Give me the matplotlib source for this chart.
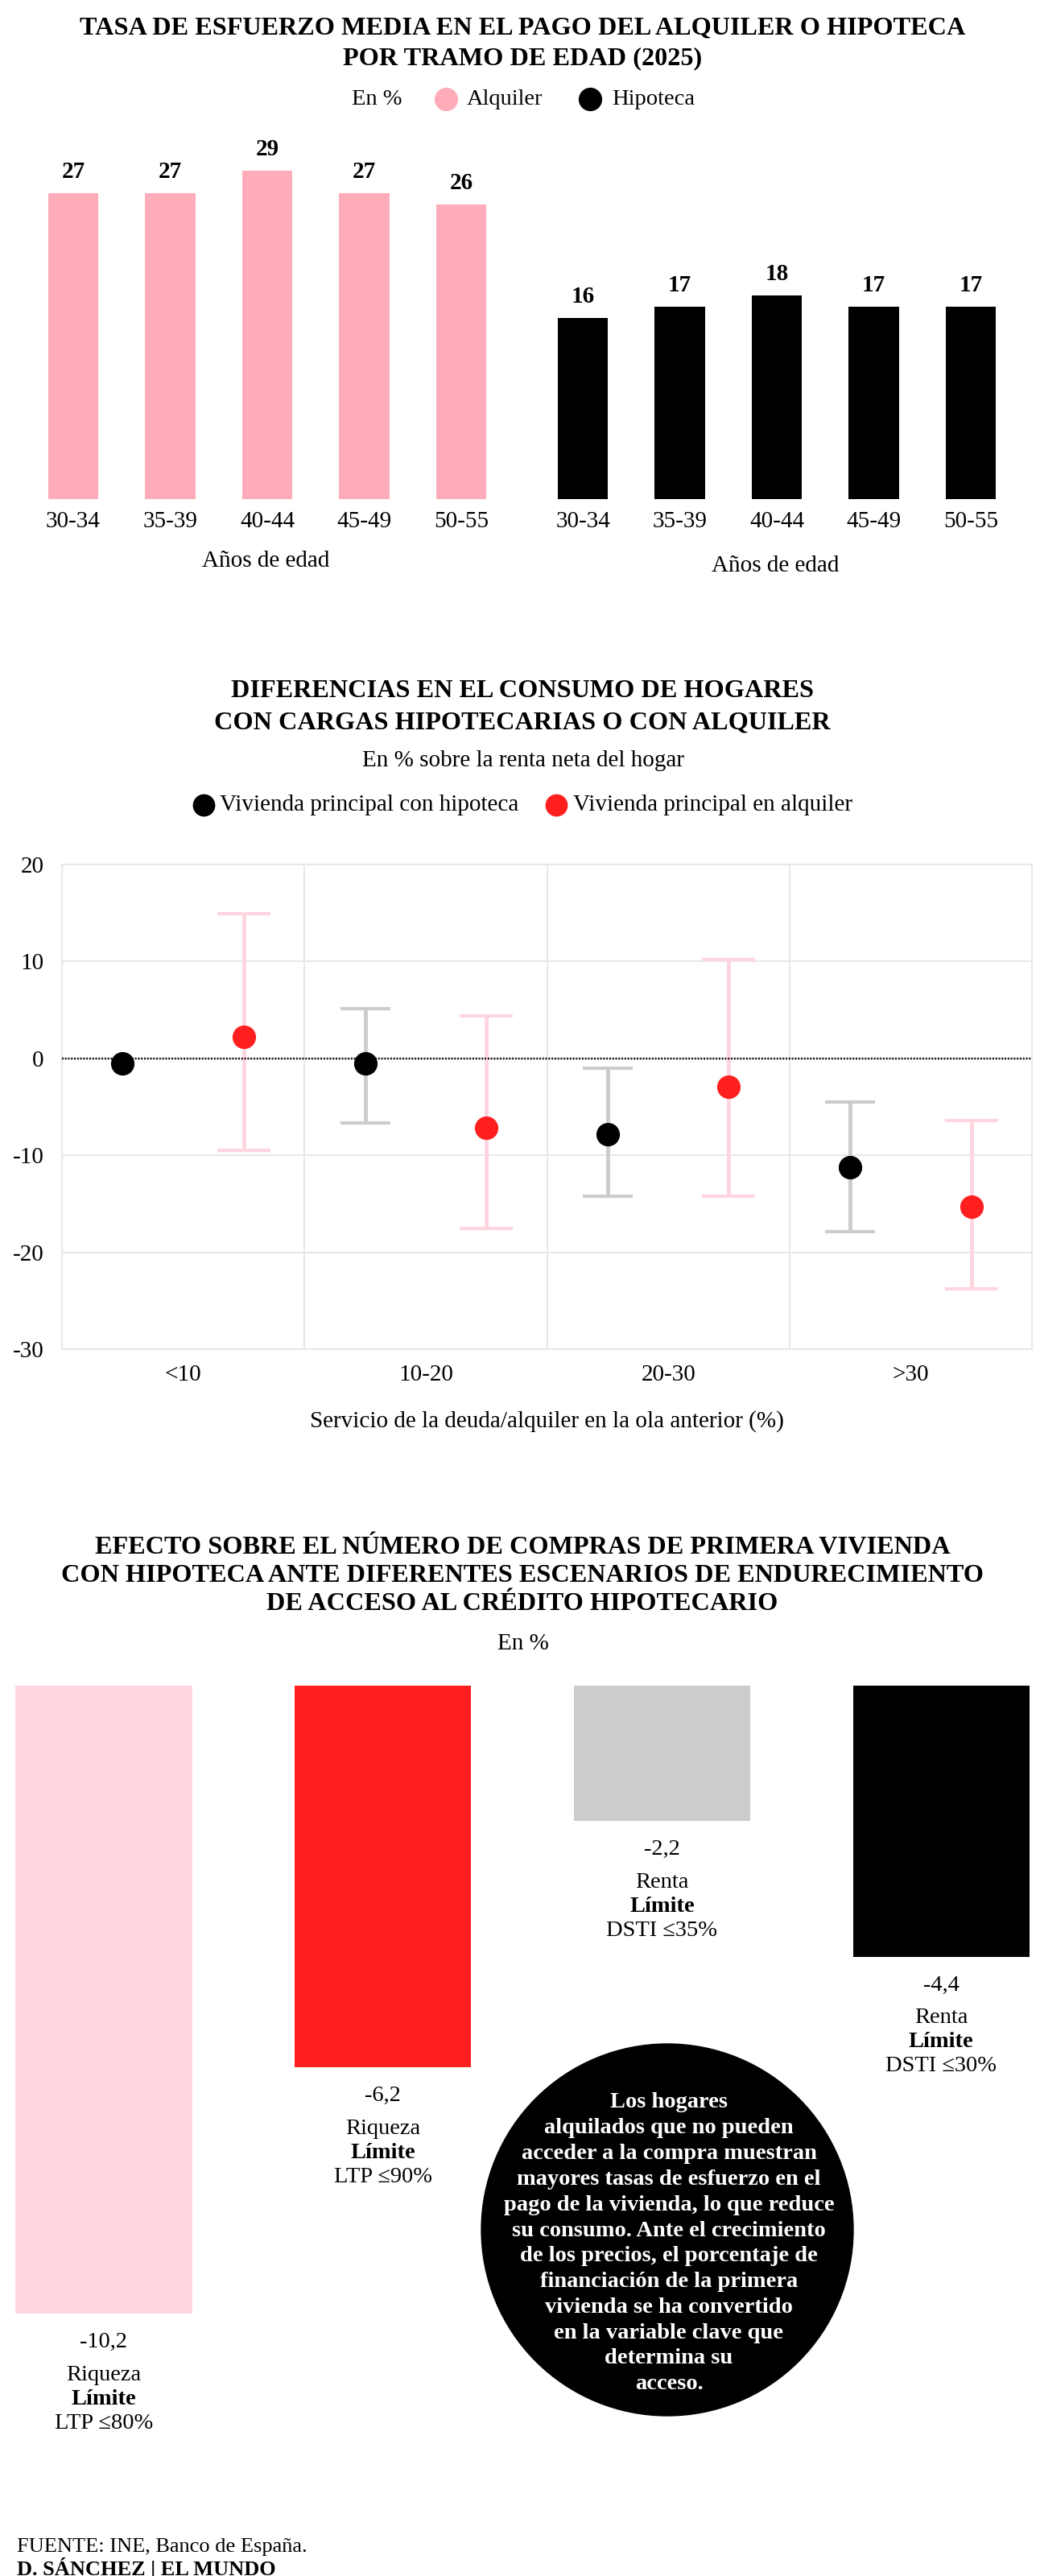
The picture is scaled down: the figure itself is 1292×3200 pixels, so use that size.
import matplotlib.pyplot as plt
from matplotlib.patches import Circle

plt.rcParams['font.family'] = ['Liberation Serif', 'DejaVu Serif']

W, H = 1292, 3200

# grafico 1: tasa de esfuerzo por tramo de edad
edades = ['30-34', '35-39', '40-44', '45-49', '50-55']
alquiler = [27, 27, 29, 27, 26]
hipoteca = [16, 17, 18, 17, 17]

# grafico 2: diferencias en el consumo
tramos = ['<10', '10-20', '20-30', '>30']
hip_media = [-0.5, -0.5, -7.8, -11.2]
hip_sup = [None, 5.1, -1.0, -4.5]
hip_inf = [None, -6.7, -14.2, -17.9]
alq_media = [2.2, -7.2, -2.95, -15.3]
alq_sup = [14.9, 4.35, 10.2, -6.4]
alq_inf = [-9.5, -17.5, -14.2, -23.8]

# grafico 3: efecto sobre compras de primera vivienda
escenarios = ['Riqueza', 'Riqueza', 'Renta', 'Renta']
limites = ['LTP ≤80%', 'LTP ≤90%', 'DSTI ≤35%', 'DSTI ≤30%']
efecto = [-10.2, -6.2, -2.2, -4.4]

nota = ['Los hogares', 'alquilados que no pueden', 'acceder a la compra muestran',
        'mayores tasas de esfuerzo en el', 'pago de la vivienda, lo que reduce',
        'su consumo. Ante el crecimiento', 'de los precios, el porcentaje de',
        'financiación de la primera', 'vivienda se ha convertido',
        'en la variable clave que', 'determina su', 'acceso.']

ROSA = '#ffacba'
ROSA_CLARO = '#ffd6e0'
ROJO = '#ff1f1f'
GRIS = '#cccccc'
REJILLA = '#e8e8e8'

fig = plt.figure(figsize=(W / 100, H / 100), dpi=100)

# capa en pixeles para titulos, leyendas y notas
axo = fig.add_axes([0, 0, 1, 1])
axo.set_xlim(0, W)
axo.set_ylim(H, 0)
axo.axis('off')


def box(left, top, right, bottom):
    return [left / W, 1 - bottom / H, (right - left) / W, (bottom - top) / H]


def titulo(lineas, y0, paso):
    for k, t in enumerate(lineas):
        axo.text(649, y0 + k * paso, t, ha='center', va='center',
                 fontsize=23.2, fontweight='bold')


# ---------- grafico 1 ----------
titulo(['TASA DE ESFUERZO MEDIA EN EL PAGO DEL ALQUILER O HIPOTECA',
        'POR TRAMO DE EDAD (2025)'], 35, 38)
axo.text(468, 123, 'En %', ha='center', va='center', fontsize=20.5)
axo.plot([554], [123], 'o', ms=20, color=ROSA)
axo.text(580, 123, 'Alquiler', ha='left', va='center', fontsize=20.5)
axo.plot([733], [123], 'o', ms=20, color='black')
axo.text(760, 123, 'Hipoteca', ha='left', va='center', fontsize=20.5)

for caja, valores, color, y_lab in [((30.75, 198, 633.25, 620), alquiler, ROSA, 697),
                                     ((663.75, 198, 1266.25, 620), hipoteca, 'black', 703)]:
    ax = fig.add_axes(box(*caja))
    x = range(len(edades))
    ax.bar(x, valores, width=0.515, color=color)
    for i, v in zip(x, valores):
        ax.annotate(str(v), (i, v), xytext=(0, 19), textcoords='offset points',
                    ha='center', va='center', fontsize=21, fontweight='bold')
    ax.set_xlim(-0.5, 4.5)
    ax.set_ylim(0, 30)
    ax.set_xticks(list(x))
    ax.set_xticklabels(edades)
    ax.set_yticks([])
    ax.tick_params(axis='x', length=0, labelsize=21, pad=11)
    for s in ax.spines.values():
        s.set_visible(False)
    ax.patch.set_alpha(0)
    cx = (caja[0] + caja[2]) / 2
    axo.text(cx - 2, y_lab, 'Años de edad', ha='center', va='center', fontsize=21)

# ---------- grafico 2 ----------
titulo(['DIFERENCIAS EN EL CONSUMO DE HOGARES',
        'CON CARGAS HIPOTECARIAS O CON ALQUILER'], 858, 40)
axo.text(650, 945, 'En % sobre la renta neta del hogar', ha='center', va='center',
         fontsize=21)
axo.plot([253], [1000], 'o', ms=19, color='black')
axo.text(273, 1000, 'Vivienda principal con hipoteca', ha='left', va='center', fontsize=21)
axo.plot([691], [1000], 'o', ms=19, color=ROJO)
axo.text(712, 1000, 'Vivienda principal en alquiler', ha='left', va='center', fontsize=21)

ax2 = fig.add_axes(box(77, 1074, 1282, 1676))
ax2.set_xlim(-0.5, 3.5)
ax2.set_ylim(-30, 20)
ax2.set_yticks([-30, -20, -10, 0, 10, 20])
ax2.set_yticklabels(['-30', '-20', '-10', '0', '10', '20'])
ax2.set_xticks(range(len(tramos)))
ax2.set_xticklabels(tramos)
ax2.tick_params(length=0, labelsize=21)
ax2.tick_params(axis='y', pad=16)
ax2.tick_params(axis='x', pad=14)
ax2.grid(axis='y', color=REJILLA, lw=1.5, zorder=0)
for xv in [0.5, 1.5, 2.5]:
    ax2.axvline(xv, color=REJILLA, lw=1.5, zorder=0)
for s in ax2.spines.values():
    s.set_color(REJILLA)
    s.set_linewidth(1.5)
ax2.axhline(0, color='black', ls=(0, (0.8, 0.8)), lw=1.7, zorder=3)

for i in range(len(tramos)):
    xh = i - 0.25
    xa = i + 0.25
    if hip_sup[i] is not None:
        ax2.errorbar([xh], [hip_media[i]],
                     yerr=[[hip_media[i] - hip_inf[i]], [hip_sup[i] - hip_media[i]]],
                     fmt='none', ecolor=GRIS, elinewidth=3.6, capsize=22, capthick=3,
                     zorder=2)
    ax2.errorbar([xa], [alq_media[i]],
                 yerr=[[alq_media[i] - alq_inf[i]], [alq_sup[i] - alq_media[i]]],
                 fmt='none', ecolor=ROSA_CLARO, elinewidth=3.6, capsize=24, capthick=3,
                 zorder=2)
ax2.plot([i - 0.25 for i in range(len(tramos))], hip_media, 'o', ls='none', ms=20,
         color='black', zorder=4)
ax2.plot([i + 0.25 for i in range(len(tramos))], alq_media, 'o', ls='none', ms=20,
         color=ROJO, zorder=4)
ax2.set_xlabel('Servicio de la deuda/alquiler en la ola anterior (%)', fontsize=21,
               labelpad=22)

# ---------- grafico 3 ----------
titulo(['EFECTO SOBRE EL NÚMERO DE COMPRAS DE PRIMERA VIVIENDA',
        'CON HIPOTECA ANTE DIFERENTES ESCENARIOS DE ENDURECIMIENTO',
        'DE ACCESO AL CRÉDITO HIPOTECARIO'], 1922, 35.5)
axo.text(650, 2042, 'En %', ha='center', va='center', fontsize=21)

ax3 = fig.add_axes(box(0, 2094, W, 2935.5))
ax3.set_xlim(-0.372, 3.354)
ax3.set_ylim(-11, 0)
ax3.axis('off')
colores3 = [ROSA_CLARO, ROJO, GRIS, 'black']
ax3.bar(range(len(efecto)), efecto, width=0.632, color=colores3)
for i, v in enumerate(efecto):
    ax3.annotate(f'{v:.1f}'.replace('.', ','), (i, v), xytext=(0, -25.5),
                 textcoords='offset points', ha='center', va='center', fontsize=20.5)
    ax3.annotate(escenarios[i], (i, v), xytext=(0, -55), textcoords='offset points',
                 ha='center', va='center', fontsize=20.5)
    ax3.annotate('Límite', (i, v), xytext=(0, -76.5), textcoords='offset points',
                 ha='center', va='center', fontsize=20.5, fontweight='bold')
    ax3.annotate(limites[i], (i, v), xytext=(0, -98), textcoords='offset points',
                 ha='center', va='center', fontsize=20.5)

axo.add_patch(Circle((829, 2770), 231, color='black'))
for k, linea in enumerate(nota):
    axo.text(831, 2612 + k * 31.8, linea, ha='center', va='center', color='white',
             fontsize=20.5, fontweight='bold')

axo.text(21, 3164, 'FUENTE: INE, Banco de España.', ha='left', va='center', fontsize=19)
axo.text(21, 3190, 'D. SÁNCHEZ | EL MUNDO', ha='left', va='center', fontsize=19,
         fontweight='bold')

fig.savefig('out.png', dpi=100)
